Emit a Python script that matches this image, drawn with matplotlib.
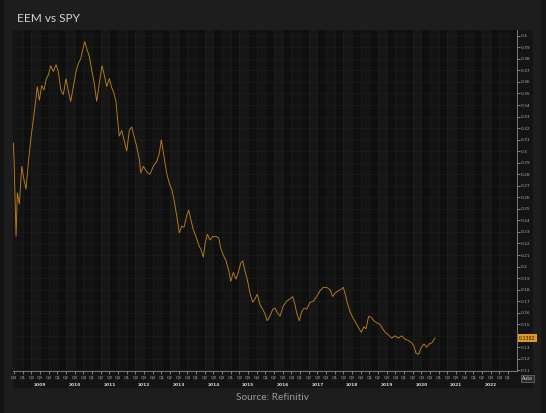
import numpy as np
import matplotlib

matplotlib.use("Agg")
import matplotlib.pyplot as plt  # noqa: E402
from matplotlib.patches import Rectangle  # noqa: E402

# EEM / SPY price ratio (decimal year, ratio)
dates = [
    2008.730, 2008.750, 2008.808, 2008.845, 2008.903, 2008.972, 2009.039, 2009.096,
    2009.163, 2009.232, 2009.289, 2009.356, 2009.422, 2009.480, 2009.549, 2009.615,
    2009.673, 2009.739, 2009.809, 2009.884, 2009.961, 2010.028, 2010.097, 2010.172,
    2010.250, 2010.316, 2010.385, 2010.460, 2010.538, 2010.605, 2010.674, 2010.732,
    2010.789, 2010.847, 2010.922, 2010.991, 2011.058, 2011.135, 2011.210, 2011.288,
    2011.346, 2011.424, 2011.499, 2011.568, 2011.634, 2011.692, 2011.730, 2011.787,
    2011.857, 2011.923, 2012.001, 2012.076, 2012.145, 2012.211, 2012.289, 2012.364,
    2012.405, 2012.480, 2012.578, 2012.673, 2012.768, 2012.866, 2012.941, 2012.999,
    2013.077, 2013.154, 2013.229, 2013.299, 2013.365, 2013.443, 2013.518, 2013.587,
    2013.653, 2013.731, 2013.789, 2013.847, 2013.922, 2013.999, 2014.077, 2014.164,
    2014.210, 2014.268, 2014.326, 2014.403, 2014.481, 2014.576, 2014.654, 2014.712,
    2014.787, 2014.865, 2014.943, 2015.000, 2015.075, 2015.153, 2015.220, 2015.289,
    2015.347, 2015.413, 2015.479, 2015.557, 2015.635, 2015.701, 2015.768, 2015.846,
    2015.923, 2015.990, 2016.056, 2016.134, 2016.212, 2016.278, 2016.345, 2016.422,
    2016.518, 2016.616, 2016.711, 2016.789, 2016.855, 2016.904, 2016.979, 2017.048,
    2017.115, 2017.192, 2017.288, 2017.383, 2017.481, 2017.576, 2017.671, 2017.769,
    2017.864, 2017.942, 2018.009, 2018.104, 2018.173, 2018.248, 2018.306, 2018.363,
    2018.441, 2018.519, 2018.614, 2018.692, 2018.767, 2018.845, 2018.903, 2018.981,
    2019.056, 2019.134, 2019.229, 2019.307, 2019.385, 2019.460, 2019.546, 2019.644,
    2019.739, 2019.835, 2019.933, 2020.028, 2020.123, 2020.221, 2020.287, 2020.345,
    2020.423, 2020.498, 2020.576, 2020.654, 2020.729, 2020.807, 2020.893,
]
ratio = [
    0.307, 0.293, 0.226, 0.264, 0.254, 0.287, 0.275, 0.267,
    0.290, 0.310, 0.323, 0.339, 0.356, 0.344, 0.357, 0.353,
    0.362, 0.366, 0.374, 0.369, 0.375, 0.369, 0.353, 0.349,
    0.363, 0.352, 0.343, 0.356, 0.369, 0.376, 0.380, 0.388,
    0.395, 0.389, 0.382, 0.370, 0.360, 0.343, 0.359, 0.374,
    0.367, 0.356, 0.363, 0.355, 0.350, 0.343, 0.329, 0.313,
    0.318, 0.310, 0.300, 0.318, 0.321, 0.313, 0.304, 0.293,
    0.281, 0.287, 0.282, 0.280, 0.287, 0.291, 0.298, 0.310,
    0.295, 0.281, 0.272, 0.267, 0.258, 0.244, 0.229, 0.235,
    0.234, 0.244, 0.249, 0.241, 0.232, 0.226, 0.219, 0.213,
    0.208, 0.221, 0.228, 0.223, 0.226, 0.226, 0.225, 0.216,
    0.210, 0.205, 0.197, 0.187, 0.195, 0.189, 0.195, 0.203,
    0.205, 0.196, 0.189, 0.177, 0.169, 0.172, 0.176, 0.167,
    0.163, 0.159, 0.153, 0.157, 0.163, 0.164, 0.160, 0.157,
    0.166, 0.170, 0.172, 0.174, 0.167, 0.160, 0.153, 0.161,
    0.164, 0.163, 0.169, 0.170, 0.174, 0.179, 0.182, 0.182,
    0.180, 0.174, 0.177, 0.179, 0.180, 0.182, 0.176, 0.169,
    0.161, 0.156, 0.151, 0.147, 0.143, 0.148, 0.146, 0.157,
    0.156, 0.153, 0.151, 0.150, 0.146, 0.143, 0.141, 0.138,
    0.140, 0.138, 0.140, 0.137, 0.136, 0.134, 0.131, 0.125,
    0.124, 0.130, 0.133, 0.130, 0.133, 0.134, 0.138,
]
last_label = "0.1382"
years = list(range(2009, 2023))
quarters = ["Q1", "Q2", "Q3", "Q4"]

BG = "#1d1d1d"
PANEL = "#141414"
AX_BG = "#0f0f0f"
LINE = "#b97f1c"
TXT = "#a8a8a8"

fig = plt.figure(figsize=(5.46, 4.13), dpi=100)
fig.patch.set_facecolor(BG)
fig.patches.append(Rectangle((0, 0), 4 / 546, 1, transform=fig.transFigure,
                             facecolor="#141414", edgecolor="none", zorder=-5))
fig.patches.append(Rectangle((541 / 546, 0), 5 / 546, 1, transform=fig.transFigure,
                             facecolor="#141414", edgecolor="none", zorder=-5))
fig.patches.append(Rectangle((13 / 546, 1 - 388 / 413), 520 / 546, 358 / 413,
                             transform=fig.transFigure, facecolor=PANEL,
                             edgecolor="none", zorder=-5))

ax = fig.add_axes([13 / 546, 1 - 371 / 413, 504 / 546, 341 / 413])
ax.set_zorder(2)
ax.set_facecolor(AX_BG)
ax.plot(dates, ratio, color=LINE, lw=0.65, solid_joinstyle="miter", zorder=3)

ax.set_xlim(2008.72, 2023.26)
ax.set_ylim(0.1095, 0.405)

# alternating vertical bands, one per half year
for y in years + [2008]:
    ax.axvspan(y + 0.25, y + 0.5, color="#161616", lw=0, zorder=0)
    ax.axvspan(y + 0.75, y + 1.0, color="#131313", lw=0, zorder=0)

# the 0.14 label sits under the last-value tag, as in the original
yt = np.round(np.arange(0.11, 0.401, 0.01), 2)
ax.set_yticks(yt)
ax.set_yticklabels(["" if v == 0.14 else f"{v:.2f}".rstrip("0") for v in yt])
ax.yaxis.tick_right()
ax.tick_params(axis="y", colors=TXT, labelsize=3.2, length=2, width=0.5, pad=1)

qpos = [2008.75] + [y + q / 4 for y in years for q in range(4)] + [2023.0]
qlab = ["Q4"] + [quarters[q] for y in years for q in range(4)] + ["Q1"]
ax.set_xticks(qpos)
ax.set_xticklabels(qlab)
ax.tick_params(axis="x", colors=TXT, labelsize=3.2, length=2, width=0.5, pad=1)
for y in years:
    ax.text(y + 0.5, -0.035, str(y), transform=ax.get_xaxis_transform(),
            ha="center", va="top", fontsize=3.2, color="#d8d8d8", fontweight="bold")

ax.grid(True, color="#1f1f1f", lw=0.4, zorder=1)
ax.set_axisbelow(True)
for side in ["top", "left"]:
    ax.spines[side].set_visible(False)
for side in ["right", "bottom"]:
    ax.spines[side].set_color("#8a8a8a")
    ax.spines[side].set_linewidth(0.6)

ax.text(1.004, ratio[-1], last_label, transform=ax.get_yaxis_transform(),
        ha="left", va="center", fontsize=3.4, color="#1a1a1a", zorder=5,
        bbox=dict(boxstyle="square,pad=0.25", fc="#e09a20", ec="none"))
ax.text(1.01, -0.022, "Auto", transform=ax.transAxes, ha="left", va="center",
        fontsize=3.4, color="#e0e0e0",
        bbox=dict(boxstyle="square,pad=0.25", fc="#2a2a2a", ec="#8a8a8a", lw=0.4))

fig.text(17 / 546, 1 - 19 / 413, "EEM vs SPY", fontsize=8.6, color="#d4d4d4",
         family="Lato", ha="left", va="center")
fig.text(273 / 546, 1 - 398 / 413, "Source: Refinitiv", fontsize=7.3,
         color="#9a9a9a", family="Lato", ha="center", va="center")

fig.savefig("out.png", dpi=100, facecolor=BG)
